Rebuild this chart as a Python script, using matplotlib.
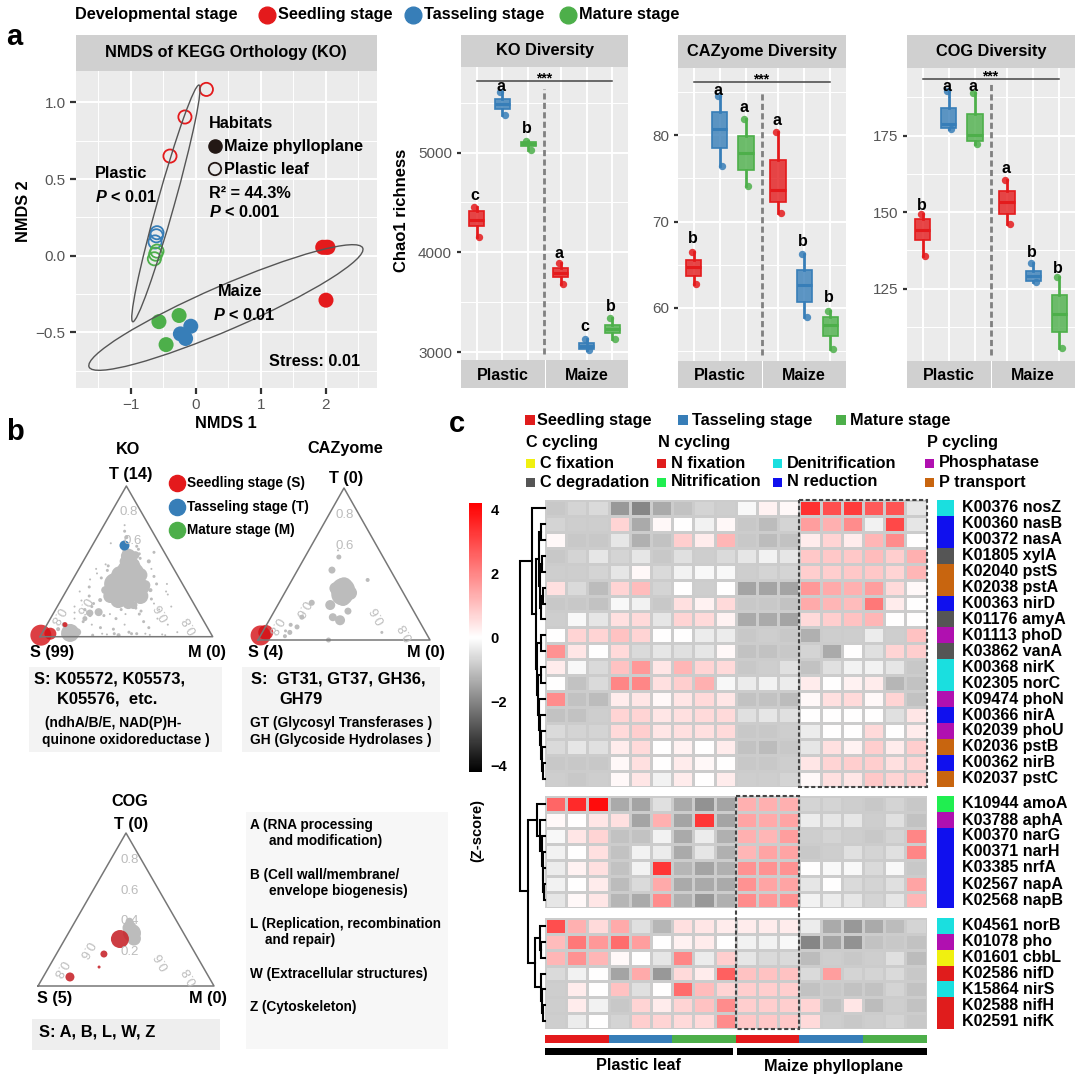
import numpy as np
import matplotlib
matplotlib.use('Agg')
import matplotlib.pyplot as plt
from matplotlib.patches import Ellipse, Rectangle
from matplotlib.colors import LinearSegmentedColormap, Normalize

plt.rcParams['font.family'] = ['Liberation Sans', 'DejaVu Sans']
plt.rcParams['font.weight'] = 'bold'
plt.rcParams['mathtext.fontset'] = 'custom'
plt.rcParams['mathtext.bfit'] = 'Liberation Sans:italic:bold'

W, H = 1080, 1078
RED, BLUE, GREEN = '#e41a1c', '#377eb8', '#4daf4a'
STAGES = [RED, BLUE, GREEN]

# NMDS scores
open_x = [0.16, -0.17, -0.40, -0.60, -0.61, -0.63, -0.60, -0.62, -0.64]
open_y = [1.085, 0.905, 0.65, 0.15, 0.13, 0.09, 0.03, 0.01, -0.02]
open_c = [RED, RED, RED, BLUE, BLUE, BLUE, GREEN, GREEN, GREEN]
full_x = [1.95, 2.00, 2.03, 2.00, -0.57, -0.26, -0.46, -0.08, -0.24, -0.16]
full_y = [0.055, 0.055, 0.055, -0.29, -0.43, -0.39, -0.58, -0.46, -0.51, -0.54]
full_c = [RED, RED, RED, RED, GREEN, GREEN, GREEN, BLUE, BLUE, BLUE]

# Chao1 boxes, order: plastic S/T/M then maize S/T/M
ko_low = [4150, 5380, 5030, 3680, 3023, 3133]
ko_q1 = [4263, 5433, 5067, 3750, 3033, 3190]
ko_med = [4323, 5490, 5083, 3790, 3063, 3230]
ko_q3 = [4417, 5540, 5110, 3840, 3090, 3273]
ko_high = [4450, 5607, 5117, 3890, 3130, 3340]
ko_letters = ['c', 'a', 'b', 'a', 'c', 'b']
ko_letter_y = [4573, 5657, 5240, 3990, 3263, 3463]

caz_low = [62.8, 76.4, 74.1, 71.0, 59.0, 55.2]
caz_q1 = [63.7, 78.5, 76.0, 72.2, 60.7, 56.8]
caz_med = [64.7, 80.7, 77.9, 73.6, 62.6, 58.0]
caz_q3 = [65.6, 82.7, 79.9, 77.1, 64.4, 59.0]
caz_high = [66.5, 84.5, 81.9, 80.4, 66.2, 59.6]
caz_letters = ['b', 'a', 'a', 'a', 'b', 'b']
caz_letter_y = [68.0, 85.2, 83.2, 81.7, 67.7, 61.2]

cog_low = [135.8, 177.2, 172.2, 146.1, 127.1, 105.5]
cog_q1 = [140.8, 177.4, 173.3, 149.5, 127.5, 110.9]
cog_med = [144.2, 178.8, 175.2, 153.3, 129.1, 116.9]
cog_q3 = [147.7, 184.0, 182.0, 156.9, 130.9, 122.9]
cog_high = [149.3, 189.6, 189.0, 160.5, 133.5, 128.7]
cog_letters = ['b', 'a', 'a', 'a', 'b', 'b']
cog_letter_y = [152.2, 191.2, 191.2, 164.3, 136.9, 131.6]

# ternary bubbles: T and M fractions, bubble diameter
ko_t = [.534, .468, .442, .389, .362, .336, .309, .283, .27, .50, .42, .30, .35, .33, .27, .309, .243, .223, .409, .409,
        .342, .541, .574, .21, .309, .243, .157, .163, .12, .06, .08, .05, .025, .03, .015,
        .70, .66, .62, .58, .55, .52, .5, .6, .48, .45, .42, .38, .33, .3, .27, .24, .22, .2, .18, .16, .14, .12, .1, .08, .06,
        .05, .03, .02, .015, .03, .02, .02, .02, .08, .1, .12, .15, .18, .2, .22, .25, .28, .12, .15, .18, .35, .4, .45, .35,
        .3, .08, .06, .2, .01, .015, .01, .02, .012, .01, .74, .56, .47, .44, .39, .19, .17, .15, .14, .2]
ko_m = [.245, .295, .285, .34, .307, .396, .28, .365, .446, .24, .33, .31, .26, .43, .272, .223, .332, .40, .26, .377,
        .439, .282, .207, .436, .485, .227, .21, .258, .2, .12, .1, .08, .162, .2, .13,
        .14, .17, .1, .28, .30, .32, .38, .26, .14, .1, .12, .1, .12, .08, .15, .12, .2, .1, .17, .12, .22, .14, .2, .26, .32,
        .4, .5, .6, .7, .78, .35, .42, .55, .45, .55, .62, .5, .6, .45, .55, .52, .6, .38, .33, .38, .5, .46, .42, .56,
        .58, .7, .6, .66, .3, .38, .45, .52, .63, .72, .12, .38, .16, .17, .16, .46, .5, .42, .3, .2]
ko_size = [15, 18, 20, 22, 22, 20, 18, 20, 16, 10, 22, 22, 22, 14, 14, 8, 16, 12, 18, 14,
           10, 8, 6, 8, 4, 4, 7, 8, 5, 4, 5, 4, 18, 8, 5,
           3, 4, 2, 3, 3, 3, 4, 3, 2, 2, 2, 2, 3, 2, 3, 2, 3, 2, 3, 2, 3, 2, 3, 2, 3,
           3, 3, 2, 2, 2, 2, 3, 3, 2, 3, 2, 3, 2, 3, 2, 3, 2, 3, 2, 3, 3, 3, 2, 2,
           2, 2, 3, 2, 3, 2, 4, 3, 2, 2, 2, 3, 3, 3, 3, 3, 3, 2, 3, 3]
ko_red_t = [.01, .02, .08]
ko_red_m = [0.0, .05, .105]
ko_red_size = [21, 12, 5]
ko_blue_t = [.607]
ko_blue_m = [.18]
ko_blue_size = [10]

caz_t = [.329, .36, .30, .27, .34, .31, .46, .546, .59, .13, .23, .15, .19, .245, .15, .086, .05, .025, .395, .05, 0.0, .10, .06]
caz_m = [.33, .32, .34, .36, .28, .38, .2, .197, .17, .412, .305, .36, .428, .19, .18, .184, .16, .144, .44, .695, .41, .14, .13]
caz_size = [24, 16, 22, 14, 12, 14, 7, 5, 2, 10, 10, 8, 7, 6, 5, 5, 5, 4, 4, 3, 5, 4, 3]
caz_red_t = [.03, .05]
caz_red_m = [0.0, .02]
caz_red_size = [20, 15]

cog_t = [.346, .38, .31, .42]
cog_m = [.361, .33, .39, .31]
cog_size = [18, 14, 14, 8]
cog_red_t = [.307, .209, .124, .059]
cog_red_m = [.312, .27, .285, .152]
cog_red_size = [18, 7, 3, 9]

# heatmap z-scores
genes_1 = ['K00376 nosZ', 'K00360 nasB', 'K00372 nasA', 'K01805 xylA', 'K02040 pstS', 'K02038 pstA', 'K00363 nirD',
           'K01176 amyA', 'K01113 phoD', 'K03862 vanA', 'K00368 nirK', 'K02305 norC', 'K09474 phoN', 'K00366 nirA',
           'K02039 phoU', 'K02036 pstB', 'K00362 nirB', 'K02037 pstC']
genes_2 = ['K10944 amoA', 'K03788 aphA', 'K00370 narG', 'K00371 narH', 'K03385 nrfA', 'K02567 napA', 'K02568 napB']
genes_3 = ['K04561 norB', 'K01078 pho', 'K01601 cbbL', 'K02586 nifD', 'K15864 nirS', 'K02588 nifH', 'K02591 nifK']

heat_1 = [
    [-0.9, -0.7, -0.6, -1.7, -2.0, -1.4, -1.0, -0.7, -0.8, -0.1, 0.2, 0.1, 3.4, 2.9, 3.2, 2.7, 2.8, -0.4],
    [-0.7, -0.8, -0.8, 0.7, -1.4, 0.1, 0.0, -0.2, 0.1, -0.9, -1.1, -0.7, 1.6, 1.3, 1.9, -0.2, 3.0, -0.4],
    [0.1, -0.9, -0.9, -0.4, -1.3, -1.0, 0.8, 0.3, 1.2, -0.9, -1.1, -1.0, 0.3, 0.7, 0.3, 1.2, 1.9, 0.0],
    [-0.9, -0.7, -0.4, -0.7, -0.4, -0.9, -0.5, -0.8, -0.6, -0.4, -0.2, -0.4, 0.9, 0.9, 0.9, 1.1, 0.8, 1.3],
    [-0.8, -0.8, -0.7, -0.4, 0.1, -0.6, -0.2, -0.1, -0.1, -0.8, -0.7, -0.7, 0.8, 0.8, 0.9, 0.9, 0.7, 1.2],
    [0.5, -0.6, -1.1, 0.7, 1.1, -0.7, 0.0, -0.8, 0.0, -1.5, -1.5, -1.5, 1.7, 1.4, 1.3, 1.6, 0.6, 0.1],
    [-0.9, -0.9, -1.0, -0.1, -0.2, -0.9, 0.5, 0.2, 0.6, -0.9, -0.9, -1.0, 1.4, 1.2, 1.1, 2.2, 0.3, 0.0],
    [-0.8, -0.1, -0.4, 0.5, 0.6, -0.4, 0.7, 0.6, 0.2, -1.4, -1.4, -1.5, 0.6, 0.8, 1.0, 1.2, 0.0, 0.0],
    [0.0, 0.7, 0.7, 1.0, 0.7, 0.0, 0.0, -0.3, -0.3, -0.9, -0.8, -0.9, -1.3, -0.8, -0.8, -0.3, -0.8, 1.0],
    [1.8, 0.4, 0.0, 0.6, -0.6, -0.4, -0.5, -0.4, 0.1, -1.0, -1.0, -0.9, -0.7, -1.4, 0.0, -0.5, 0.7, 0.8],
    [0.3, -0.1, -0.6, 1.0, 1.7, 0.4, 1.2, 0.7, 0.6, -0.9, -0.8, -0.5, -1.0, -0.5, -0.2, -0.2, -0.4, -0.9],
    [0.0, -1.0, -0.6, 2.0, 2.0, 0.5, 0.8, 1.3, -0.1, -0.3, -0.2, -0.3, 0.3, 0.0, 0.2, 0.3, -1.2, -1.0],
    [1.9, -1.0, -1.1, 0.3, 0.4, 0.1, 0.4, 0.6, 0.4, -1.0, -1.0, -1.1, 0.1, 0.5, 0.6, 0.1, 0.7, -1.0],
    [-1.0, -1.0, -0.8, 0.7, 0.7, 0.4, 0.5, 0.6, 0.6, -0.5, -0.4, -0.5, 0.0, 0.0, 0.0, 0.0, -0.5, 0.4],
    [-0.6, -0.7, -0.7, 0.6, 0.8, 0.4, 0.5, 0.5, 0.6, -0.9, -0.9, -0.8, -0.3, 0.0, 0.0, 0.6, 0.0, 0.3],
    [-0.6, -0.4, -0.5, 0.3, 0.6, 0.0, 0.2, 0.0, 0.3, -1.0, -1.1, -0.9, -0.4, 0.5, 0.2, 0.8, 0.3, 0.8],
    [-0.9, -0.9, -0.9, 0.1, 0.5, 0.0, 0.3, 0.1, 0.0, -0.9, -0.9, -0.8, 0.4, 0.7, 0.8, 0.8, 0.5, 0.7],
    [-0.8, -0.9, -0.8, 0.1, 0.4, -0.2, 0.3, 0.0, 0.3, -0.8, -0.8, -0.7, 0.1, 0.5, 0.4, 0.9, 0.7, 0.8],
]
heat_2 = [
    [2.5, 3.5, 4.0, -1.4, -1.5, -0.5, -1.4, -1.8, -1.5, 1.3, 1.3, 1.3, -0.7, -0.7, -0.8, -0.9, -0.7, -0.9],
    [0.1, 0.0, 0.4, 0.5, -1.5, 1.3, -1.5, 3.3, -1.5, 1.5, 1.4, 1.5, -0.3, -0.4, -0.4, -0.8, -0.5, -1.0],
    [-0.1, 0.4, 0.7, -1.0, -1.0, -0.2, -1.4, -0.3, -1.3, 1.3, 1.2, 1.6, -0.8, -0.7, -0.8, -0.9, -0.7, 2.0],
    [-0.2, 0.0, 0.5, -1.0, -0.2, -0.3, -1.4, -0.4, -1.3, 1.2, 1.5, 1.5, -0.9, -0.8, -0.5, -0.7, -0.5, 2.0],
    [-0.3, 0.2, 0.5, -1.0, -0.2, 3.3, -1.2, -1.5, -1.3, 1.8, 1.8, 1.8, 0.0, -0.1, -0.1, -0.6, -0.1, -0.9],
    [-0.2, 0.0, 0.3, -1.1, -0.6, 1.4, -1.4, -1.4, -1.4, 1.8, 1.5, 1.5, -0.4, 0.0, -0.6, -0.7, -0.5, 1.5],
    [-0.4, 0.1, 0.4, -1.2, -1.4, 1.9, -1.3, -1.7, -1.3, 1.9, 1.7, 1.8, -0.2, -0.3, -0.4, -0.7, -0.4, 1.2],
]
heat_3 = [
    [2.9, 1.3, 0.6, 1.4, -0.5, -1.2, 0.5, 0.4, 0.3, 0.3, 0.3, 0.3, -0.3, -1.4, -1.7, -1.4, -1.1, -0.7],
    [1.1, 2.2, 1.7, 2.4, 1.6, 0.0, 0.2, 0.3, 0.0, -0.2, -0.2, -0.1, -2.0, -1.5, -1.8, -1.0, -0.9, -1.0],
    [1.2, 1.8, 1.2, 0.1, 0.0, -0.4, 2.0, -0.3, 0.8, -0.4, -0.6, -0.6, -1.1, -0.8, -0.9, -0.8, -0.5, -1.1],
    [-0.6, -0.2, 0.0, -1.5, 1.4, -1.7, 0.6, 0.3, 2.6, 1.0, 1.0, 1.0, -0.6, 1.6, -0.7, -0.7, -0.6, -0.9],
    [-0.8, 0.3, 0.0, 1.0, -0.5, 0.0, 2.4, 1.1, 0.7, 0.8, 0.8, 0.8, -1.0, -0.9, -1.0, -1.0, -0.7, -1.0],
    [-0.8, 0.3, -0.2, -0.9, 0.7, 0.3, 0.7, 1.0, 1.9, 0.8, 0.8, 0.8, 0.7, -1.0, 0.4, -1.1, -0.8, -1.0],
    [-0.8, -0.3, 0.0, -0.7, 0.8, 0.7, 0.6, 0.6, 1.9, 0.9, 0.9, 0.9, 0.6, -0.8, -0.9, -0.8, -0.7, -0.9],
]

CYAN, NBLUE, CGREY, ORANGE, PURPLE = '#1adfdf', '#1010ee', '#555555', '#c8650f', '#b010b0'
NGREEN, YELLOW, NRED = '#20ee50', '#f0f010', '#e01c1c'
kind_1 = [CYAN, NBLUE, NBLUE, CGREY, ORANGE, ORANGE, NBLUE, CGREY, PURPLE, CGREY, CYAN, CYAN, PURPLE, NBLUE, PURPLE,
          ORANGE, NBLUE, ORANGE]
kind_2 = [NGREEN, PURPLE, NBLUE, NBLUE, NBLUE, NBLUE, NBLUE]
kind_3 = [CYAN, PURPLE, YELLOW, NRED, CYAN, NRED, NRED]

BIG = 11.7


def px_axes(l, t, r, b, **kw):
    return fig.add_axes([l / W, 1 - b / H, (r - l) / W, (b - t) / H], **kw)


fig = plt.figure(figsize=(W / 100, H / 100), dpi=100)

# overlay in pixel coordinates for strips, labels and boxes
ov = fig.add_axes([0, 0, 1, 1], zorder=10)
ov.set_xlim(0, W)
ov.set_ylim(H, 0)
ov.axis('off')


def txt(x, y, s, size=BIG, ha='left', **kw):
    ov.text(x, y, s, fontsize=size, ha=ha, va='center', **kw)


def strip(l, t, r, b, color='#d0d0d0'):
    ov.add_patch(Rectangle((l, t), r - l, b - t, facecolor=color, edgecolor='none', zorder=0))


# top legend
txt(75, 15, 'Developmental stage')
for cx, tx, col, lab in [(267, 278, RED, 'Seedling stage'), (413, 424, BLUE, 'Tasseling stage'),
                         (568, 579, GREEN, 'Mature stage')]:
    ov.scatter([cx], [15], s=145, color=col)
    txt(tx, 15, lab)
txt(6, 37, 'a', 21)
txt(6, 432, 'b', 21)
txt(449, 424, 'c', 21)

# panel a
ax = px_axes(76, 71, 377, 388)
ax.set_facecolor('#ebebeb')
ax.set_xlim(-1.846, 2.785)
ax.set_ylim(-0.863, 1.205)
ax.set_xticks([-1, 0, 1, 2])
ax.set_yticks([-0.5, 0, 0.5, 1.0])
ax.set_xticks([-1.5, -0.5, 0.5, 1.5, 2.5], minor=True)
ax.set_yticks([-0.75, -0.25, 0.25, 0.75], minor=True)
ax.set_yticklabels(['\u22120.5', '0.0', '0.5', '1.0'], fontweight='normal')
ax.set_xticklabels(['\u22121', '0', '1', '2'], fontweight='normal')
ax.grid(True, which='major', color='white', lw=1.4)
ax.grid(True, which='minor', color='white', lw=0.7)
ax.set_axisbelow(True)
ax.tick_params(which='major', labelsize=11, labelcolor='#555555', color='#333333', width=1.6, length=4)
ax.tick_params(which='minor', length=0)
for sp in ax.spines.values():
    sp.set_visible(False)
ax.scatter(full_x, full_y, s=117, c=full_c, linewidths=0, zorder=3)
ax.scatter(open_x, open_y, s=90, facecolors='none', edgecolors=open_c, linewidths=1.3, zorder=3)
strip(76, 35, 377, 71)
txt(226, 52, 'NMDS of KEGG Orthology (KO)', ha='center')
ov.add_patch(Ellipse((165.9, 203.4), 245.8, 17, angle=-74.35, fill=False, edgecolor='#555555', lw=1))
ov.add_patch(Ellipse((225.9, 307.5), 298.4, 44, angle=-23.5, fill=False, edgecolor='#555555', lw=1))
txt(226, 424, 'NMDS 1', ha='center')
txt(23, 211, 'NMDS 2', ha='center', rotation=90)
txt(209, 124, 'Habitats')
ov.scatter([215], [146], s=90, color='#231815')
txt(224, 146, 'Maize phylloplane')
ov.scatter([215], [169], s=80, facecolors='none', edgecolors='#231815', linewidths=1.3)
txt(224, 169, 'Plastic leaf')
txt(209, 193, 'R\u00b2 = 44.3%')
txt(209, 212, '$\\mathbfit{P}$ < 0.001')
txt(95, 173, 'Plastic')
txt(95, 197, '$\\mathbfit{P}$ < 0.01')
txt(218, 291, 'Maize')
txt(213, 315, '$\\mathbfit{P}$ < 0.01')
txt(269, 362, 'Stress: 0.01')

# diversity box panels
POS = [0, 1, 2, 3.25, 4.25, 5.25]


def box_panel(l, r, split, title, top, bot, ylim, yticks, minor, low, q1, med, q3, high, letters, letter_y,
              sig_y, star_y, dash_top):
    a = px_axes(l, top, r, bot)
    a.set_facecolor('#ebebeb')
    a.set_xlim(-0.6, 5.85)
    a.set_ylim(*ylim)
    a.set_yticks(yticks)
    a.set_yticks(minor, minor=True)
    a.set_xticks(POS)
    a.tick_params(axis='x', length=0, labelbottom=False)
    a.tick_params(axis='y', which='major', labelsize=11, labelcolor='#555555', color='#333333', width=1.6, length=3)
    a.tick_params(axis='y', which='minor', length=0)
    for lab in a.get_yticklabels():
        lab.set_fontweight('normal')
    a.grid(True, which='major', color='white', lw=1.4)
    a.grid(True, which='minor', color='white', lw=0.7)
    a.set_axisbelow(True)
    for sp in a.spines.values():
        sp.set_visible(False)
    stats = [dict(whislo=low[i], q1=q1[i], med=med[i], q3=q3[i], whishi=high[i]) for i in range(6)]
    parts = a.bxp(stats, positions=POS, widths=0.6, patch_artist=True, showfliers=False, showcaps=False,
                  manage_ticks=False)
    for i, b in enumerate(parts['boxes']):
        c = STAGES[i % 3]
        b.set(facecolor=matplotlib.colors.to_rgba(c, 0.8), edgecolor=c, lw=1.2)
        parts['medians'][i].set(color=c, lw=2.2)
        parts['whiskers'][2 * i].set(color=c, lw=2)
        parts['whiskers'][2 * i + 1].set(color=c, lw=2)
        px = [POS[i] + 0.1, POS[i] - 0.08]
        a.scatter(px, [low[i], high[i]], s=28, color=c, alpha=0.85, linewidths=0, zorder=4)
        a.text(POS[i] - 0.05, letter_y[i], letters[i], fontsize=11.5, ha='center', va='center', zorder=5)
    a.plot([0, 5.25], [sig_y, sig_y], color='#444444', lw=1.1, zorder=5)
    a.text(2.6, star_y, '***', fontsize=10, ha='center', va='center')
    a.plot([2.62, 2.62], [ylim[0] + (ylim[1] - ylim[0]) * 0.02, dash_top], color='#808080', lw=2, ls=(0, (2.2, 1.2)),
           zorder=5)
    strip(l, 35, r, top)
    txt((l + r) / 2, (35 + top) / 2, title, 11.8, ha='center')
    strip(l, bot, split - 0.5, 388)
    strip(split + 0.5, bot, r, 388)
    txt((l + split) / 2, 375, 'Plastic', 11.5, ha='center')
    txt((split + r) / 2, 375, 'Maize', 11.5, ha='center')


box_panel(461, 628, 545, 'KO Diversity', 67, 360, (2923, 5856), [3000, 4000, 5000], [3500, 4500, 5500],
          ko_low, ko_q1, ko_med, ko_q3, ko_high, ko_letters, ko_letter_y, 5715, 5743, 5640)
box_panel(678, 846, 762, 'CAZyome Diversity', 68, 361, (53.86, 87.76), [60, 70, 80], [55, 65, 75, 85],
          caz_low, caz_q1, caz_med, caz_q3, caz_high, caz_letters, caz_letter_y, 86.1, 86.4, 85.0)
box_panel(907, 1075, 991, 'COG Diversity', 68, 361, (101.4, 197.1), [125, 150, 175], [112.5, 137.5, 162.5, 187.5],
          cog_low, cog_q1, cog_med, cog_q3, cog_high, cog_letters, cog_letter_y, 193.5, 194.3, 192.0)
txt(402, 210, 'Chao1 richness', 12, ha='center', rotation=90)


# ternary panels
def ternary(l, t, r, b, pts):
    a = px_axes(l, t, r, b)
    a.set_xlim(0, 1)
    a.set_ylim(0, 1)
    a.axis('off')
    a.plot([0, 0.5, 1, 0], [0, 1, 0, 0], color='#777777', lw=1.1, clip_on=False)
    for tt, mm, dd, col, al in pts:
        tt, mm = np.array(tt), np.array(mm)
        a.scatter(mm + tt / 2, tt, s=(np.array(dd) * 0.72) ** 2, color=col, alpha=al, linewidths=0, clip_on=False)
    return a


ternary(40, 486, 212.7, 636.7, [(ko_t, ko_m, ko_size, '#bcbcbc', 1), (ko_red_t, ko_red_m, ko_red_size, '#d40f14', 0.8),
                                (ko_blue_t, ko_blue_m, ko_blue_size, BLUE, 1)])
ternary(258, 488, 430, 640, [(caz_t, caz_m, caz_size, '#bcbcbc', 1), (caz_red_t, caz_red_m, caz_red_size, '#d40f14', 0.8)])
ternary(38, 833, 214, 986, [(cog_t, cog_m, cog_size, '#bcbcbc', 1), (cog_red_t, cog_red_m, cog_red_size, '#c8282e', 0.9)])

TERN = '#bcbcbc'
for x, y, s, rot in [(129, 512, '0.8', 0), (133, 541, '0.6', 0), (83, 605, '0.6', 240), (57, 615, '0.8', 240),
                     (162, 612, '0.6', 120), (190, 625, '0.8', 120),
                     (345, 515, '0.8', 0), (345, 546, '0.6', 0), (302, 608, '0.6', 240), (275, 625, '0.8', 240),
                     (378, 615, '0.6', 120), (406, 632, '0.8', 120),
                     (130, 860, '0.8', 0), (130, 891, '0.6', 0), (86, 949, '0.6', 240), (60, 968, '0.8', 240),
                     (162, 961, '0.6', 120), (190, 976, '0.8', 120), (130, 921, '0.4', 0), (130, 952, '0.2', 0)]:
    txt(x, y, s, 9.5, ha='center', color=TERN, rotation=rot, fontweight='normal')

txt(128, 449, 'KO', ha='center')
txt(345, 449, 'CAZyome', ha='center')
txt(131, 474, 'T (14)', ha='center')
txt(346, 478, 'T (0)', ha='center')
txt(30, 653, 'S (99)')
txt(188, 653, 'M (0)')
txt(248, 653, 'S (4)')
txt(407, 653, 'M (0)')
txt(130, 801, 'COG', ha='center')
txt(131, 824, 'T (0)', ha='center')
txt(37, 999, 'S (5)')
txt(189, 999, 'M (0)')

for cy, col, lab in [(483, RED, 'Seedling stage (S)'), (507, BLUE, 'Tasseling stage (T)'), (530, GREEN, 'Mature stage (M)')]:
    ov.scatter([176.5], [cy], s=135, color=col)
    txt(187, cy, lab, 9.8)

strip(29, 667, 222, 752, '#f3f3f3')
strip(242, 667, 440, 752, '#f3f3f3')
strip(32, 1019, 220, 1050, '#eeeeee')
strip(246, 812, 448, 1049, '#f7f7f7')
txt(34, 679, 'S: K05572, K05573,', 11.9)
txt(57, 699, 'K05576,  etc.', 11.9)
txt(45, 723, '(ndhA/B/E, NAD(P)H-', 9.9)
txt(42, 740, 'quinone oxidoreductase )', 9.9)
txt(251, 679, 'S:  GT31, GT37, GH36,', 11.9)
txt(279, 699, 'GH79', 11.9)
txt(250, 723, 'GT (Glycosyl Transferases )', 9.9)
txt(250, 740, 'GH (Glycoside Hydrolases )', 9.9)
txt(39, 1032, 'S: A, B, L, W, Z', 11.9)
for x, y, s in [(250, 825, 'A (RNA processing'), (269, 841, 'and modification)'), (250, 875, 'B (Cell wall/membrane/'),
                (269, 891, 'envelope biogenesis)'), (250, 924, 'L (Replication, recombination'),
                (265, 940, 'and repair)'), (250, 974, 'W (Extracellular structures)'), (250, 1007, 'Z (Cytoskeleton)')]:
    txt(x, y, s, 9.8)

# panel c legends
for sx, tx, col, lab in [(530, 537, '#e01c1c', 'Seedling stage'), (683, 692, BLUE, 'Tasseling stage'),
                         (841, 850, GREEN, 'Mature stage')]:
    ov.add_patch(Rectangle((sx - 5, 415), 10, 10, facecolor=col, edgecolor='none'))
    txt(tx, 420, lab)
txt(526, 443, 'C cycling')
txt(658, 443, 'N cycling')
txt(927, 443, 'P cycling')
for sx, y, col, lab in [(530, 463, YELLOW, 'C fixation'), (530, 482, CGREY, 'C degradation'), (661, 463, NRED, 'N fixation'),
                        (661, 482, NGREEN, 'Nitrification'), (777, 463, CYAN, 'Denitrification'),
                        (777, 482, NBLUE, 'N reduction'), (929, 463, PURPLE, 'Phosphatase'),
                        (929, 482, ORANGE, 'P transport')]:
    ov.add_patch(Rectangle((sx - 4.5, y - 4.5), 9, 9, facecolor=col, edgecolor='none'))
    txt(sx + 10, y, lab, BIG)

# heatmap blocks
cmap = LinearSegmentedColormap.from_list('zs', ['black', 'white', 'red'])
norm = Normalize(-4.2, 4.2)
HL, HR = 545, 926.7
block_top = [500, 796, 917.7]
block_bot = [786.7, 908, 1029.3]
mesh = None
row_centres = []
for vals, names, kinds, t, b in zip([heat_1, heat_2, heat_3], [genes_1, genes_2, genes_3], [kind_1, kind_2, kind_3],
                                    block_top, block_bot):
    a = px_axes(HL, t, HR, b)
    mesh = a.pcolormesh(np.array(vals), cmap=cmap, norm=norm, edgecolors='#cccccc', linewidth=1)
    a.invert_yaxis()
    a.axis('off')
    k = px_axes(936.7, t, 954, b)
    k.barh(np.arange(len(kinds)) + 0.5, 1, height=1, color=kinds)
    k.set_xlim(0, 1)
    k.set_ylim(len(kinds), 0)
    k.axis('off')
    step = (b - t) / len(names)
    for i, nm in enumerate(names):
        yc = t + step * (i + 0.5)
        row_centres.append(yc)
        txt(962, yc, nm, 11.5)

cell = (HR - HL) / 18
ov.add_patch(Rectangle((HL + 12 * cell, 500), 6 * cell, 286.7, fill=False, edgecolor='#444444', lw=1.5, ls=(0, (2, 1.2))))
ov.add_patch(Rectangle((HL + 9 * cell, 796), 3 * cell, 233.3, fill=False, edgecolor='#444444', lw=1.5, ls=(0, (2, 1.2))))

for i in range(6):
    ov.add_patch(Rectangle((HL + 3 * i * cell, 1035), 3 * cell, 8, facecolor=[RED, BLUE, GREEN][i % 3], edgecolor='none'))
ov.add_patch(Rectangle((545, 1048), 188, 7, facecolor='black'))
ov.add_patch(Rectangle((736.5, 1048), 190, 7, facecolor='black'))
txt(638, 1066, 'Plastic leaf', ha='center')
txt(833, 1066, 'Maize phylloplane', ha='center')

# dendrogram: (merge x in pixels, child, child), leaves are row numbers
tree = (520,
        (532, 0,
         (536,
          (538.5,
           (541, 1, 2),
           (540, (542, 3, 4), (541, (542.5, 5, 6), 7))),
          (537,
           (541, 8, 9),
           (538, (541, 10, 11), (539, 12, (540, 13, (541, 14, (542, 15, (543, 16, 17))))))))),
        (528,
         (536.5, 18,
          (540, 19, (542, 20, (542.5, 21, (543, 22, (543.5, 23, 24)))))),
         (534.5,
          (540, 25, (541, 26, 27)),
          (541, 28, (542, 29, (543, 30, 31))))))


def draw_tree(node):
    if isinstance(node, int):
        return 544.5, row_centres[node]
    x, left, right = node
    xa, ya = draw_tree(left)
    xb, yb = draw_tree(right)
    ov.plot([xa, x, x, xb], [ya, ya, yb, yb], color='black', lw=1.5, solid_joinstyle='miter')
    return x, (ya + yb) / 2


draw_tree(tree)

# colour bar
cax = px_axes(469, 503, 482, 772)
cb = fig.colorbar(mesh, cax=cax, ticks=[-4, -2, 0, 2, 4])
cb.outline.set_visible(False)
cb.ax.tick_params(length=0, labelsize=10.5, pad=6)
cb.ax.set_yticklabels(['\u22124', '\u22122', '0', '2', '4'])
txt(477, 830, '(Z-score)', 10.5, ha='center', rotation=90)

fig.savefig('out.png', dpi=100)
